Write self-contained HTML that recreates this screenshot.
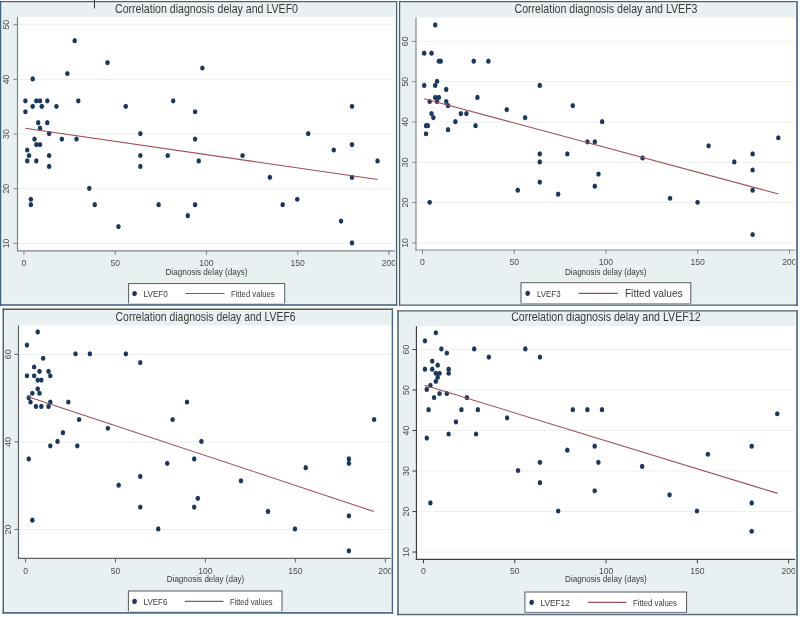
<!DOCTYPE html><html><head><meta charset="utf-8"><title>Correlation diagnosis delay and LVEF</title><style>html,body{margin:0;padding:0;background:#fdfefe;}svg{display:block;filter:blur(0.35px);}text{font-family:"Liberation Sans", sans-serif;}</style></head><body>
<svg width="800" height="617" viewBox="0 0 800 617">
<rect x="0" y="0" width="800" height="617" fill="#fcfefe"/>
<g id="p1">
<rect x="0.6" y="1.6" width="396" height="303.4" fill="#e9f0f1"/>
<rect x="17.5" y="16.8" width="377.3" height="234" fill="#ffffff"/>
<line x1="18.5" y1="243.4" x2="394.8" y2="243.4" stroke="#eeefef" stroke-width="1"/>
<line x1="18.5" y1="188.72" x2="394.8" y2="188.72" stroke="#eeefef" stroke-width="1"/>
<line x1="18.5" y1="134.05" x2="394.8" y2="134.05" stroke="#eeefef" stroke-width="1"/>
<line x1="18.5" y1="79.38" x2="394.8" y2="79.38" stroke="#eeefef" stroke-width="1"/>
<line x1="18.5" y1="24.7" x2="394.8" y2="24.7" stroke="#eeefef" stroke-width="1"/>
<line x1="17.5" y1="16.8" x2="17.5" y2="251.4" stroke="#7e8388" stroke-width="1.2"/>
<line x1="16.9" y1="250.8" x2="394.8" y2="250.8" stroke="#7e8388" stroke-width="1.2"/>
<line x1="13.5" y1="243.4" x2="17.5" y2="243.4" stroke="#7e8388" stroke-width="1"/>
<text x="0" y="0" transform="translate(9.2,243.4) rotate(-90)" text-anchor="middle" font-size="8.8" fill="#4d4d4d">10</text>
<line x1="13.5" y1="188.72" x2="17.5" y2="188.72" stroke="#7e8388" stroke-width="1"/>
<text x="0" y="0" transform="translate(9.2,188.72) rotate(-90)" text-anchor="middle" font-size="8.8" fill="#4d4d4d">20</text>
<line x1="13.5" y1="134.05" x2="17.5" y2="134.05" stroke="#7e8388" stroke-width="1"/>
<text x="0" y="0" transform="translate(9.2,134.05) rotate(-90)" text-anchor="middle" font-size="8.8" fill="#4d4d4d">30</text>
<line x1="13.5" y1="79.38" x2="17.5" y2="79.38" stroke="#7e8388" stroke-width="1"/>
<text x="0" y="0" transform="translate(9.2,79.38) rotate(-90)" text-anchor="middle" font-size="8.8" fill="#4d4d4d">40</text>
<line x1="13.5" y1="24.7" x2="17.5" y2="24.7" stroke="#7e8388" stroke-width="1"/>
<text x="0" y="0" transform="translate(9.2,24.7) rotate(-90)" text-anchor="middle" font-size="8.8" fill="#4d4d4d">50</text>
<line x1="24" y1="250.8" x2="24" y2="254.8" stroke="#7e8388" stroke-width="1"/>
<text x="24" y="265.9" text-anchor="middle" font-size="8.6" fill="#4d4d4d">0</text>
<line x1="115.22" y1="250.8" x2="115.22" y2="254.8" stroke="#7e8388" stroke-width="1"/>
<text x="115.22" y="265.9" text-anchor="middle" font-size="8.6" fill="#4d4d4d">50</text>
<line x1="206.45" y1="250.8" x2="206.45" y2="254.8" stroke="#7e8388" stroke-width="1"/>
<text x="206.45" y="265.9" text-anchor="middle" font-size="8.6" fill="#4d4d4d">100</text>
<line x1="297.68" y1="250.8" x2="297.68" y2="254.8" stroke="#7e8388" stroke-width="1"/>
<text x="297.68" y="265.9" text-anchor="middle" font-size="8.6" fill="#4d4d4d">150</text>
<line x1="388.9" y1="250.8" x2="388.9" y2="254.8" stroke="#7e8388" stroke-width="1"/>
<text x="388.9" y="265.9" text-anchor="middle" font-size="8.6" fill="#4d4d4d">200</text>
<ellipse cx="74.66" cy="40.67" rx="2.25" ry="2.6" fill="#1b385c"/>
<ellipse cx="107.5" cy="62.54" rx="2.25" ry="2.6" fill="#1b385c"/>
<ellipse cx="202.37" cy="68.01" rx="2.25" ry="2.6" fill="#1b385c"/>
<ellipse cx="67.36" cy="73.48" rx="2.25" ry="2.6" fill="#1b385c"/>
<ellipse cx="32.7" cy="78.94" rx="2.25" ry="2.6" fill="#1b385c"/>
<ellipse cx="25.4" cy="100.81" rx="2.25" ry="2.6" fill="#1b385c"/>
<ellipse cx="36.34" cy="100.81" rx="2.25" ry="2.6" fill="#1b385c"/>
<ellipse cx="39.99" cy="100.81" rx="2.25" ry="2.6" fill="#1b385c"/>
<ellipse cx="47.29" cy="100.81" rx="2.25" ry="2.6" fill="#1b385c"/>
<ellipse cx="78.31" cy="100.81" rx="2.25" ry="2.6" fill="#1b385c"/>
<ellipse cx="173.18" cy="100.81" rx="2.25" ry="2.6" fill="#1b385c"/>
<ellipse cx="32.7" cy="106.28" rx="2.25" ry="2.6" fill="#1b385c"/>
<ellipse cx="41.82" cy="106.28" rx="2.25" ry="2.6" fill="#1b385c"/>
<ellipse cx="56.41" cy="106.28" rx="2.25" ry="2.6" fill="#1b385c"/>
<ellipse cx="125.75" cy="106.28" rx="2.25" ry="2.6" fill="#1b385c"/>
<ellipse cx="351.98" cy="106.28" rx="2.25" ry="2.6" fill="#1b385c"/>
<ellipse cx="25.4" cy="111.75" rx="2.25" ry="2.6" fill="#1b385c"/>
<ellipse cx="195.08" cy="111.75" rx="2.25" ry="2.6" fill="#1b385c"/>
<ellipse cx="38.17" cy="122.68" rx="2.25" ry="2.6" fill="#1b385c"/>
<ellipse cx="47.29" cy="122.68" rx="2.25" ry="2.6" fill="#1b385c"/>
<ellipse cx="39.99" cy="128.15" rx="2.25" ry="2.6" fill="#1b385c"/>
<ellipse cx="49.12" cy="133.62" rx="2.25" ry="2.6" fill="#1b385c"/>
<ellipse cx="140.34" cy="133.62" rx="2.25" ry="2.6" fill="#1b385c"/>
<ellipse cx="308.2" cy="133.62" rx="2.25" ry="2.6" fill="#1b385c"/>
<ellipse cx="34.52" cy="139.09" rx="2.25" ry="2.6" fill="#1b385c"/>
<ellipse cx="61.89" cy="139.09" rx="2.25" ry="2.6" fill="#1b385c"/>
<ellipse cx="76.48" cy="139.09" rx="2.25" ry="2.6" fill="#1b385c"/>
<ellipse cx="195.08" cy="139.09" rx="2.25" ry="2.6" fill="#1b385c"/>
<ellipse cx="36.34" cy="144.55" rx="2.25" ry="2.6" fill="#1b385c"/>
<ellipse cx="39.99" cy="144.55" rx="2.25" ry="2.6" fill="#1b385c"/>
<ellipse cx="351.98" cy="144.55" rx="2.25" ry="2.6" fill="#1b385c"/>
<ellipse cx="27.22" cy="150.02" rx="2.25" ry="2.6" fill="#1b385c"/>
<ellipse cx="333.74" cy="150.02" rx="2.25" ry="2.6" fill="#1b385c"/>
<ellipse cx="29.05" cy="155.49" rx="2.25" ry="2.6" fill="#1b385c"/>
<ellipse cx="49.12" cy="155.49" rx="2.25" ry="2.6" fill="#1b385c"/>
<ellipse cx="140.34" cy="155.49" rx="2.25" ry="2.6" fill="#1b385c"/>
<ellipse cx="167.71" cy="155.49" rx="2.25" ry="2.6" fill="#1b385c"/>
<ellipse cx="242.51" cy="155.49" rx="2.25" ry="2.6" fill="#1b385c"/>
<ellipse cx="27.22" cy="160.96" rx="2.25" ry="2.6" fill="#1b385c"/>
<ellipse cx="36.34" cy="160.96" rx="2.25" ry="2.6" fill="#1b385c"/>
<ellipse cx="198.73" cy="160.96" rx="2.25" ry="2.6" fill="#1b385c"/>
<ellipse cx="377.53" cy="160.96" rx="2.25" ry="2.6" fill="#1b385c"/>
<ellipse cx="49.12" cy="166.42" rx="2.25" ry="2.6" fill="#1b385c"/>
<ellipse cx="140.34" cy="166.42" rx="2.25" ry="2.6" fill="#1b385c"/>
<ellipse cx="269.88" cy="177.36" rx="2.25" ry="2.6" fill="#1b385c"/>
<ellipse cx="351.98" cy="177.36" rx="2.25" ry="2.6" fill="#1b385c"/>
<ellipse cx="89.26" cy="188.29" rx="2.25" ry="2.6" fill="#1b385c"/>
<ellipse cx="297.25" cy="199.23" rx="2.25" ry="2.6" fill="#1b385c"/>
<ellipse cx="30.87" cy="199.23" rx="2.25" ry="2.6" fill="#1b385c"/>
<ellipse cx="30.87" cy="204.7" rx="2.25" ry="2.6" fill="#1b385c"/>
<ellipse cx="94.73" cy="204.7" rx="2.25" ry="2.6" fill="#1b385c"/>
<ellipse cx="158.59" cy="204.7" rx="2.25" ry="2.6" fill="#1b385c"/>
<ellipse cx="195.08" cy="204.7" rx="2.25" ry="2.6" fill="#1b385c"/>
<ellipse cx="282.65" cy="204.7" rx="2.25" ry="2.6" fill="#1b385c"/>
<ellipse cx="187.78" cy="215.63" rx="2.25" ry="2.6" fill="#1b385c"/>
<ellipse cx="341.04" cy="221.1" rx="2.25" ry="2.6" fill="#1b385c"/>
<ellipse cx="118.45" cy="226.57" rx="2.25" ry="2.6" fill="#1b385c"/>
<ellipse cx="351.98" cy="242.97" rx="2.25" ry="2.6" fill="#1b385c"/>
<line x1="25.2" y1="128.25" x2="377.6" y2="179.5" stroke="#a04c57" stroke-width="1.1"/>
<text x="206.5" y="12.5" text-anchor="middle" font-size="12.1" fill="#3a3a3a" textLength="183" lengthAdjust="spacingAndGlyphs">Correlation diagnosis delay and LVEF0</text>
<text x="206.5" y="274.6" text-anchor="middle" font-size="8.6" fill="#3a3a3a" textLength="82" lengthAdjust="spacingAndGlyphs">Diagnosis delay (days)</text>
<rect x="128.6" y="283.6" width="156.1" height="20.4" fill="#ffffff" stroke="#555a5f" stroke-width="1"/>
<ellipse cx="134.6" cy="293.5" rx="2.3" ry="2.6" fill="#1b385c"/>
<line x1="185.4" y1="293.5" x2="224.5" y2="293.5" stroke="#a04c57" stroke-width="1.2"/>
<text x="143.6" y="296.8" font-size="8.8" fill="#3a3a3a" textLength="24.2" lengthAdjust="spacingAndGlyphs">LVEF0</text>
<text x="230.9" y="296.8" font-size="8.3" fill="#3a3a3a" textLength="43.8" lengthAdjust="spacingAndGlyphs">Fitted values</text>
<rect x="1.75" y="2.7" width="393.7" height="301.1" fill="none" stroke="#f3fafc" stroke-width="1" stroke-opacity="0.8"/>
<line x1="0.6" y1="1" x2="0.6" y2="305.7" stroke="#3d6485" stroke-width="1.3"/>
<line x1="-0.05" y1="1.6" x2="397.25" y2="1.6" stroke="#4a5e6c" stroke-width="1.2"/>
<line x1="396.6" y1="1" x2="396.6" y2="305.7" stroke="#4a6474" stroke-width="1.3"/>
<line x1="-0.05" y1="305" x2="397.25" y2="305" stroke="#3d5c80" stroke-width="1.4"/>
</g>
<g id="p2">
<rect x="399.6" y="1.6" width="397.4" height="303.5" fill="#e9f0f1"/>
<rect x="416" y="17.4" width="380" height="232.6" fill="#ffffff"/>
<line x1="417" y1="242.9" x2="796" y2="242.9" stroke="#eeefef" stroke-width="1"/>
<line x1="417" y1="202.59" x2="796" y2="202.59" stroke="#eeefef" stroke-width="1"/>
<line x1="417" y1="162.29" x2="796" y2="162.29" stroke="#eeefef" stroke-width="1"/>
<line x1="417" y1="121.98" x2="796" y2="121.98" stroke="#eeefef" stroke-width="1"/>
<line x1="417" y1="81.68" x2="796" y2="81.68" stroke="#eeefef" stroke-width="1"/>
<line x1="417" y1="41.37" x2="796" y2="41.37" stroke="#eeefef" stroke-width="1"/>
<line x1="416" y1="17.4" x2="416" y2="250.6" stroke="#84888c" stroke-width="1.2"/>
<line x1="415.4" y1="250" x2="796" y2="250" stroke="#84888c" stroke-width="1.2"/>
<line x1="412" y1="242.9" x2="416" y2="242.9" stroke="#84888c" stroke-width="1"/>
<text x="0" y="0" transform="translate(408.3,242.9) rotate(-90)" text-anchor="middle" font-size="8.8" fill="#4d4d4d">10</text>
<line x1="412" y1="202.59" x2="416" y2="202.59" stroke="#84888c" stroke-width="1"/>
<text x="0" y="0" transform="translate(408.3,202.59) rotate(-90)" text-anchor="middle" font-size="8.8" fill="#4d4d4d">20</text>
<line x1="412" y1="162.29" x2="416" y2="162.29" stroke="#84888c" stroke-width="1"/>
<text x="0" y="0" transform="translate(408.3,162.29) rotate(-90)" text-anchor="middle" font-size="8.8" fill="#4d4d4d">30</text>
<line x1="412" y1="121.98" x2="416" y2="121.98" stroke="#84888c" stroke-width="1"/>
<text x="0" y="0" transform="translate(408.3,121.98) rotate(-90)" text-anchor="middle" font-size="8.8" fill="#4d4d4d">40</text>
<line x1="412" y1="81.68" x2="416" y2="81.68" stroke="#84888c" stroke-width="1"/>
<text x="0" y="0" transform="translate(408.3,81.68) rotate(-90)" text-anchor="middle" font-size="8.8" fill="#4d4d4d">50</text>
<line x1="412" y1="41.37" x2="416" y2="41.37" stroke="#84888c" stroke-width="1"/>
<text x="0" y="0" transform="translate(408.3,41.37) rotate(-90)" text-anchor="middle" font-size="8.8" fill="#4d4d4d">60</text>
<line x1="422.5" y1="250" x2="422.5" y2="254" stroke="#84888c" stroke-width="1"/>
<text x="422.5" y="265.4" text-anchor="middle" font-size="8.6" fill="#4d4d4d">0</text>
<line x1="514.24" y1="250" x2="514.24" y2="254" stroke="#84888c" stroke-width="1"/>
<text x="514.24" y="265.4" text-anchor="middle" font-size="8.6" fill="#4d4d4d">50</text>
<line x1="605.98" y1="250" x2="605.98" y2="254" stroke="#84888c" stroke-width="1"/>
<text x="605.98" y="265.4" text-anchor="middle" font-size="8.6" fill="#4d4d4d">100</text>
<line x1="697.72" y1="250" x2="697.72" y2="254" stroke="#84888c" stroke-width="1"/>
<text x="697.72" y="265.4" text-anchor="middle" font-size="8.6" fill="#4d4d4d">150</text>
<line x1="789.46" y1="250" x2="789.46" y2="254" stroke="#84888c" stroke-width="1"/>
<text x="789.46" y="265.4" text-anchor="middle" font-size="8.6" fill="#4d4d4d">200</text>
<ellipse cx="435.19" cy="24.92" rx="2.25" ry="2.6" fill="#1b385c"/>
<ellipse cx="424.19" cy="53.13" rx="2.25" ry="2.6" fill="#1b385c"/>
<ellipse cx="431.53" cy="53.13" rx="2.25" ry="2.6" fill="#1b385c"/>
<ellipse cx="438.86" cy="61.19" rx="2.25" ry="2.6" fill="#1b385c"/>
<ellipse cx="440.7" cy="61.19" rx="2.25" ry="2.6" fill="#1b385c"/>
<ellipse cx="473.73" cy="61.19" rx="2.25" ry="2.6" fill="#1b385c"/>
<ellipse cx="488.4" cy="61.19" rx="2.25" ry="2.6" fill="#1b385c"/>
<ellipse cx="437.03" cy="81.35" rx="2.25" ry="2.6" fill="#1b385c"/>
<ellipse cx="539.78" cy="85.38" rx="2.25" ry="2.6" fill="#1b385c"/>
<ellipse cx="424.19" cy="85.38" rx="2.25" ry="2.6" fill="#1b385c"/>
<ellipse cx="435.19" cy="85.38" rx="2.25" ry="2.6" fill="#1b385c"/>
<ellipse cx="446.2" cy="89.41" rx="2.25" ry="2.6" fill="#1b385c"/>
<ellipse cx="435.19" cy="97.47" rx="2.25" ry="2.6" fill="#1b385c"/>
<ellipse cx="438.86" cy="97.47" rx="2.25" ry="2.6" fill="#1b385c"/>
<ellipse cx="477.4" cy="97.47" rx="2.25" ry="2.6" fill="#1b385c"/>
<ellipse cx="429.69" cy="101.5" rx="2.25" ry="2.6" fill="#1b385c"/>
<ellipse cx="437.03" cy="101.5" rx="2.25" ry="2.6" fill="#1b385c"/>
<ellipse cx="446.2" cy="101.5" rx="2.25" ry="2.6" fill="#1b385c"/>
<ellipse cx="448.04" cy="105.53" rx="2.25" ry="2.6" fill="#1b385c"/>
<ellipse cx="572.8" cy="105.53" rx="2.25" ry="2.6" fill="#1b385c"/>
<ellipse cx="506.75" cy="109.56" rx="2.25" ry="2.6" fill="#1b385c"/>
<ellipse cx="431.53" cy="113.59" rx="2.25" ry="2.6" fill="#1b385c"/>
<ellipse cx="460.88" cy="113.59" rx="2.25" ry="2.6" fill="#1b385c"/>
<ellipse cx="466.39" cy="113.59" rx="2.25" ry="2.6" fill="#1b385c"/>
<ellipse cx="433.36" cy="117.62" rx="2.25" ry="2.6" fill="#1b385c"/>
<ellipse cx="525.1" cy="117.62" rx="2.25" ry="2.6" fill="#1b385c"/>
<ellipse cx="455.38" cy="121.65" rx="2.25" ry="2.6" fill="#1b385c"/>
<ellipse cx="602.16" cy="121.65" rx="2.25" ry="2.6" fill="#1b385c"/>
<ellipse cx="426.02" cy="125.68" rx="2.25" ry="2.6" fill="#1b385c"/>
<ellipse cx="427.86" cy="125.68" rx="2.25" ry="2.6" fill="#1b385c"/>
<ellipse cx="475.56" cy="125.68" rx="2.25" ry="2.6" fill="#1b385c"/>
<ellipse cx="448.04" cy="129.71" rx="2.25" ry="2.6" fill="#1b385c"/>
<ellipse cx="426.02" cy="133.74" rx="2.25" ry="2.6" fill="#1b385c"/>
<ellipse cx="778.3" cy="137.77" rx="2.25" ry="2.6" fill="#1b385c"/>
<ellipse cx="587.48" cy="141.8" rx="2.25" ry="2.6" fill="#1b385c"/>
<ellipse cx="594.82" cy="141.8" rx="2.25" ry="2.6" fill="#1b385c"/>
<ellipse cx="708.58" cy="145.84" rx="2.25" ry="2.6" fill="#1b385c"/>
<ellipse cx="539.78" cy="153.9" rx="2.25" ry="2.6" fill="#1b385c"/>
<ellipse cx="567.3" cy="153.9" rx="2.25" ry="2.6" fill="#1b385c"/>
<ellipse cx="752.62" cy="153.9" rx="2.25" ry="2.6" fill="#1b385c"/>
<ellipse cx="642.53" cy="157.93" rx="2.25" ry="2.6" fill="#1b385c"/>
<ellipse cx="539.78" cy="161.96" rx="2.25" ry="2.6" fill="#1b385c"/>
<ellipse cx="734.27" cy="161.96" rx="2.25" ry="2.6" fill="#1b385c"/>
<ellipse cx="752.62" cy="170.02" rx="2.25" ry="2.6" fill="#1b385c"/>
<ellipse cx="598.49" cy="174.05" rx="2.25" ry="2.6" fill="#1b385c"/>
<ellipse cx="539.78" cy="182.11" rx="2.25" ry="2.6" fill="#1b385c"/>
<ellipse cx="594.82" cy="186.14" rx="2.25" ry="2.6" fill="#1b385c"/>
<ellipse cx="517.76" cy="190.17" rx="2.25" ry="2.6" fill="#1b385c"/>
<ellipse cx="752.62" cy="190.17" rx="2.25" ry="2.6" fill="#1b385c"/>
<ellipse cx="558.13" cy="194.2" rx="2.25" ry="2.6" fill="#1b385c"/>
<ellipse cx="670.05" cy="198.23" rx="2.25" ry="2.6" fill="#1b385c"/>
<ellipse cx="429.69" cy="202.26" rx="2.25" ry="2.6" fill="#1b385c"/>
<ellipse cx="697.57" cy="202.26" rx="2.25" ry="2.6" fill="#1b385c"/>
<ellipse cx="752.62" cy="234.51" rx="2.25" ry="2.6" fill="#1b385c"/>
<line x1="424.2" y1="98.7" x2="778.4" y2="194" stroke="#a04c57" stroke-width="1.1"/>
<text x="606" y="12.8" text-anchor="middle" font-size="12.1" fill="#3a3a3a" textLength="183" lengthAdjust="spacingAndGlyphs">Correlation diagnosis delay and LVEF3</text>
<text x="605.8" y="274.6" text-anchor="middle" font-size="8.6" fill="#3a3a3a" textLength="81.5" lengthAdjust="spacingAndGlyphs">Diagnosis delay (days)</text>
<rect x="521" y="282.7" width="169.8" height="20.9" fill="#ffffff" stroke="#555a5f" stroke-width="1"/>
<ellipse cx="527.7" cy="293.3" rx="2.3" ry="2.6" fill="#1b385c"/>
<line x1="578.6" y1="293.3" x2="617.9" y2="293.3" stroke="#a04c57" stroke-width="1.2"/>
<text x="537" y="296.5" font-size="8.8" fill="#3a3a3a" textLength="23.6" lengthAdjust="spacingAndGlyphs">LVEF3</text>
<text x="624.9" y="297.4" font-size="11" fill="#3a3a3a" textLength="57.8" lengthAdjust="spacingAndGlyphs">Fitted values</text>
<rect x="400.75" y="2.7" width="394.8" height="301.25" fill="none" stroke="#f3fafc" stroke-width="1" stroke-opacity="0.8"/>
<line x1="399.6" y1="1" x2="399.6" y2="305.75" stroke="#4a6070" stroke-width="1.3"/>
<line x1="398.95" y1="1.6" x2="797.95" y2="1.6" stroke="#4a5e6c" stroke-width="1.2"/>
<line x1="797" y1="1" x2="797" y2="305.75" stroke="#5f7a98" stroke-width="1.9"/>
<line x1="398.95" y1="305.1" x2="797.95" y2="305.1" stroke="#445d75" stroke-width="1.3"/>
</g>
<g id="p3">
<rect x="3.3" y="309.3" width="389.1" height="303.6" fill="#e9f0f1"/>
<rect x="18.5" y="325.4" width="372.5" height="232.9" fill="#ffffff"/>
<line x1="19.5" y1="529.45" x2="391" y2="529.45" stroke="#eeefef" stroke-width="1"/>
<line x1="19.5" y1="441.9" x2="391" y2="441.9" stroke="#eeefef" stroke-width="1"/>
<line x1="19.5" y1="354.35" x2="391" y2="354.35" stroke="#eeefef" stroke-width="1"/>
<line x1="18.5" y1="325.4" x2="18.5" y2="558.9" stroke="#5e6266" stroke-width="1.2"/>
<line x1="17.9" y1="558.3" x2="391" y2="558.3" stroke="#5e6266" stroke-width="1.2"/>
<line x1="14.5" y1="529.45" x2="18.5" y2="529.45" stroke="#5e6266" stroke-width="1"/>
<text x="0" y="0" transform="translate(10.6,529.45) rotate(-90)" text-anchor="middle" font-size="9.0" fill="#4d4d4d">20</text>
<line x1="14.5" y1="441.9" x2="18.5" y2="441.9" stroke="#5e6266" stroke-width="1"/>
<text x="0" y="0" transform="translate(10.6,441.9) rotate(-90)" text-anchor="middle" font-size="9.0" fill="#4d4d4d">40</text>
<line x1="14.5" y1="354.35" x2="18.5" y2="354.35" stroke="#5e6266" stroke-width="1"/>
<text x="0" y="0" transform="translate(10.6,354.35) rotate(-90)" text-anchor="middle" font-size="9.0" fill="#4d4d4d">60</text>
<line x1="25.56" y1="558.3" x2="25.56" y2="562.3" stroke="#5e6266" stroke-width="1"/>
<text x="25.56" y="573.6" text-anchor="middle" font-size="8.6" fill="#4d4d4d">0</text>
<line x1="115.5" y1="558.3" x2="115.5" y2="562.3" stroke="#5e6266" stroke-width="1"/>
<text x="115.5" y="573.6" text-anchor="middle" font-size="8.6" fill="#4d4d4d">50</text>
<line x1="205.43" y1="558.3" x2="205.43" y2="562.3" stroke="#5e6266" stroke-width="1"/>
<text x="205.43" y="573.6" text-anchor="middle" font-size="8.6" fill="#4d4d4d">100</text>
<line x1="295.37" y1="558.3" x2="295.37" y2="562.3" stroke="#5e6266" stroke-width="1"/>
<text x="295.37" y="573.6" text-anchor="middle" font-size="8.6" fill="#4d4d4d">150</text>
<line x1="385.3" y1="558.3" x2="385.3" y2="562.3" stroke="#5e6266" stroke-width="1"/>
<text x="385.3" y="573.6" text-anchor="middle" font-size="8.6" fill="#4d4d4d">200</text>
<ellipse cx="37.72" cy="331.96" rx="2.25" ry="2.6" fill="#1b385c"/>
<ellipse cx="26.93" cy="345.1" rx="2.25" ry="2.6" fill="#1b385c"/>
<ellipse cx="75.5" cy="353.85" rx="2.25" ry="2.6" fill="#1b385c"/>
<ellipse cx="89.89" cy="353.85" rx="2.25" ry="2.6" fill="#1b385c"/>
<ellipse cx="125.86" cy="353.85" rx="2.25" ry="2.6" fill="#1b385c"/>
<ellipse cx="43.12" cy="358.23" rx="2.25" ry="2.6" fill="#1b385c"/>
<ellipse cx="140.25" cy="362.61" rx="2.25" ry="2.6" fill="#1b385c"/>
<ellipse cx="34.13" cy="366.98" rx="2.25" ry="2.6" fill="#1b385c"/>
<ellipse cx="39.52" cy="371.36" rx="2.25" ry="2.6" fill="#1b385c"/>
<ellipse cx="48.52" cy="371.36" rx="2.25" ry="2.6" fill="#1b385c"/>
<ellipse cx="26.93" cy="375.74" rx="2.25" ry="2.6" fill="#1b385c"/>
<ellipse cx="34.13" cy="375.74" rx="2.25" ry="2.6" fill="#1b385c"/>
<ellipse cx="50.31" cy="375.74" rx="2.25" ry="2.6" fill="#1b385c"/>
<ellipse cx="37.72" cy="380.12" rx="2.25" ry="2.6" fill="#1b385c"/>
<ellipse cx="41.32" cy="380.12" rx="2.25" ry="2.6" fill="#1b385c"/>
<ellipse cx="37.72" cy="388.87" rx="2.25" ry="2.6" fill="#1b385c"/>
<ellipse cx="32.33" cy="393.25" rx="2.25" ry="2.6" fill="#1b385c"/>
<ellipse cx="39.52" cy="393.25" rx="2.25" ry="2.6" fill="#1b385c"/>
<ellipse cx="28.73" cy="397.63" rx="2.25" ry="2.6" fill="#1b385c"/>
<ellipse cx="30.53" cy="402" rx="2.25" ry="2.6" fill="#1b385c"/>
<ellipse cx="50.31" cy="402" rx="2.25" ry="2.6" fill="#1b385c"/>
<ellipse cx="68.3" cy="402" rx="2.25" ry="2.6" fill="#1b385c"/>
<ellipse cx="187.02" cy="402" rx="2.25" ry="2.6" fill="#1b385c"/>
<ellipse cx="35.93" cy="406.38" rx="2.25" ry="2.6" fill="#1b385c"/>
<ellipse cx="41.32" cy="406.38" rx="2.25" ry="2.6" fill="#1b385c"/>
<ellipse cx="48.52" cy="406.38" rx="2.25" ry="2.6" fill="#1b385c"/>
<ellipse cx="79.09" cy="419.51" rx="2.25" ry="2.6" fill="#1b385c"/>
<ellipse cx="172.63" cy="419.51" rx="2.25" ry="2.6" fill="#1b385c"/>
<ellipse cx="374.08" cy="419.51" rx="2.25" ry="2.6" fill="#1b385c"/>
<ellipse cx="107.87" cy="428.27" rx="2.25" ry="2.6" fill="#1b385c"/>
<ellipse cx="62.91" cy="432.65" rx="2.25" ry="2.6" fill="#1b385c"/>
<ellipse cx="57.51" cy="441.4" rx="2.25" ry="2.6" fill="#1b385c"/>
<ellipse cx="201.41" cy="441.4" rx="2.25" ry="2.6" fill="#1b385c"/>
<ellipse cx="50.31" cy="445.78" rx="2.25" ry="2.6" fill="#1b385c"/>
<ellipse cx="77.3" cy="445.78" rx="2.25" ry="2.6" fill="#1b385c"/>
<ellipse cx="28.73" cy="458.91" rx="2.25" ry="2.6" fill="#1b385c"/>
<ellipse cx="194.21" cy="458.91" rx="2.25" ry="2.6" fill="#1b385c"/>
<ellipse cx="348.9" cy="458.91" rx="2.25" ry="2.6" fill="#1b385c"/>
<ellipse cx="348.9" cy="463.29" rx="2.25" ry="2.6" fill="#1b385c"/>
<ellipse cx="167.23" cy="463.29" rx="2.25" ry="2.6" fill="#1b385c"/>
<ellipse cx="305.73" cy="467.67" rx="2.25" ry="2.6" fill="#1b385c"/>
<ellipse cx="140.25" cy="476.42" rx="2.25" ry="2.6" fill="#1b385c"/>
<ellipse cx="240.98" cy="480.8" rx="2.25" ry="2.6" fill="#1b385c"/>
<ellipse cx="118.67" cy="485.18" rx="2.25" ry="2.6" fill="#1b385c"/>
<ellipse cx="197.81" cy="498.31" rx="2.25" ry="2.6" fill="#1b385c"/>
<ellipse cx="140.25" cy="507.06" rx="2.25" ry="2.6" fill="#1b385c"/>
<ellipse cx="194.21" cy="507.06" rx="2.25" ry="2.6" fill="#1b385c"/>
<ellipse cx="267.96" cy="511.44" rx="2.25" ry="2.6" fill="#1b385c"/>
<ellipse cx="348.9" cy="515.82" rx="2.25" ry="2.6" fill="#1b385c"/>
<ellipse cx="32.33" cy="520.2" rx="2.25" ry="2.6" fill="#1b385c"/>
<ellipse cx="158.24" cy="528.95" rx="2.25" ry="2.6" fill="#1b385c"/>
<ellipse cx="294.94" cy="528.95" rx="2.25" ry="2.6" fill="#1b385c"/>
<ellipse cx="348.9" cy="550.84" rx="2.25" ry="2.6" fill="#1b385c"/>
<line x1="27.3" y1="396.5" x2="373.8" y2="511.4" stroke="#a04c57" stroke-width="1.1"/>
<text x="205.6" y="320.5" text-anchor="middle" font-size="12.1" fill="#3a3a3a" textLength="180" lengthAdjust="spacingAndGlyphs">Correlation diagnosis delay and LVEF6</text>
<text x="205.5" y="582" text-anchor="middle" font-size="8.6" fill="#3a3a3a" textLength="77.4" lengthAdjust="spacingAndGlyphs">Diagnosis delay (day)</text>
<rect x="128.4" y="591" width="153.6" height="20.8" fill="#ffffff" stroke="#555a5f" stroke-width="1"/>
<ellipse cx="134.6" cy="601.4" rx="2.3" ry="2.6" fill="#1b385c"/>
<line x1="184.8" y1="601.4" x2="223.5" y2="601.4" stroke="#a04c57" stroke-width="1.2"/>
<text x="143.6" y="604.8" font-size="8.8" fill="#3a3a3a" textLength="23.8" lengthAdjust="spacingAndGlyphs">LVEF6</text>
<text x="229.9" y="604.7" font-size="8.2" fill="#3a3a3a" textLength="42.7" lengthAdjust="spacingAndGlyphs">Fitted values</text>
<rect x="4.55" y="310.5" width="386.65" height="301.1" fill="none" stroke="#f3fafc" stroke-width="1" stroke-opacity="0.8"/>
<line x1="3.3" y1="308.6" x2="3.3" y2="613.7" stroke="#4d6274" stroke-width="1.5"/>
<line x1="2.55" y1="309.3" x2="393.1" y2="309.3" stroke="#4a5560" stroke-width="1.4"/>
<line x1="392.4" y1="308.6" x2="392.4" y2="613.7" stroke="#4e6880" stroke-width="1.4"/>
<line x1="2.55" y1="612.9" x2="393.1" y2="612.9" stroke="#4e6c85" stroke-width="1.6"/>
</g>
<g id="p4">
<rect x="398.05" y="310.8" width="398.95" height="303.8" fill="#e9f0f1"/>
<rect x="416.45" y="326.2" width="379.15" height="233.15" fill="#ffffff"/>
<line x1="417.45" y1="552.04" x2="795.6" y2="552.04" stroke="#eeefef" stroke-width="1"/>
<line x1="417.45" y1="511.54" x2="795.6" y2="511.54" stroke="#eeefef" stroke-width="1"/>
<line x1="417.45" y1="471.03" x2="795.6" y2="471.03" stroke="#eeefef" stroke-width="1"/>
<line x1="417.45" y1="430.53" x2="795.6" y2="430.53" stroke="#eeefef" stroke-width="1"/>
<line x1="417.45" y1="390.02" x2="795.6" y2="390.02" stroke="#eeefef" stroke-width="1"/>
<line x1="417.45" y1="349.52" x2="795.6" y2="349.52" stroke="#eeefef" stroke-width="1"/>
<line x1="416.45" y1="326.2" x2="416.45" y2="559.95" stroke="#3e4144" stroke-width="1.2"/>
<line x1="415.85" y1="559.35" x2="795.6" y2="559.35" stroke="#3e4144" stroke-width="1.2"/>
<line x1="412.45" y1="552.04" x2="416.45" y2="552.04" stroke="#3e4144" stroke-width="1"/>
<text x="0" y="0" transform="translate(408.5,552.04) rotate(-90)" text-anchor="middle" font-size="8.8" fill="#4d4d4d">10</text>
<line x1="412.45" y1="511.54" x2="416.45" y2="511.54" stroke="#3e4144" stroke-width="1"/>
<text x="0" y="0" transform="translate(408.5,511.54) rotate(-90)" text-anchor="middle" font-size="8.8" fill="#4d4d4d">20</text>
<line x1="412.45" y1="471.03" x2="416.45" y2="471.03" stroke="#3e4144" stroke-width="1"/>
<text x="0" y="0" transform="translate(408.5,471.03) rotate(-90)" text-anchor="middle" font-size="8.8" fill="#4d4d4d">30</text>
<line x1="412.45" y1="430.53" x2="416.45" y2="430.53" stroke="#3e4144" stroke-width="1"/>
<text x="0" y="0" transform="translate(408.5,430.53) rotate(-90)" text-anchor="middle" font-size="8.8" fill="#4d4d4d">40</text>
<line x1="412.45" y1="390.02" x2="416.45" y2="390.02" stroke="#3e4144" stroke-width="1"/>
<text x="0" y="0" transform="translate(408.5,390.02) rotate(-90)" text-anchor="middle" font-size="8.8" fill="#4d4d4d">50</text>
<line x1="412.45" y1="349.52" x2="416.45" y2="349.52" stroke="#3e4144" stroke-width="1"/>
<text x="0" y="0" transform="translate(408.5,349.52) rotate(-90)" text-anchor="middle" font-size="8.8" fill="#4d4d4d">60</text>
<line x1="423.5" y1="559.35" x2="423.5" y2="563.35" stroke="#3e4144" stroke-width="1"/>
<text x="423.5" y="574" text-anchor="middle" font-size="8.6" fill="#4d4d4d">0</text>
<line x1="514.77" y1="559.35" x2="514.77" y2="563.35" stroke="#3e4144" stroke-width="1"/>
<text x="514.77" y="574" text-anchor="middle" font-size="8.6" fill="#4d4d4d">50</text>
<line x1="606.05" y1="559.35" x2="606.05" y2="563.35" stroke="#3e4144" stroke-width="1"/>
<text x="606.05" y="574" text-anchor="middle" font-size="8.6" fill="#4d4d4d">100</text>
<line x1="697.33" y1="559.35" x2="697.33" y2="563.35" stroke="#3e4144" stroke-width="1"/>
<text x="697.33" y="574" text-anchor="middle" font-size="8.6" fill="#4d4d4d">150</text>
<line x1="788.6" y1="559.35" x2="788.6" y2="563.35" stroke="#3e4144" stroke-width="1"/>
<text x="788.6" y="574" text-anchor="middle" font-size="8.6" fill="#4d4d4d">200</text>
<ellipse cx="435.87" cy="332.76" rx="2.25" ry="2.6" fill="#1b385c"/>
<ellipse cx="424.92" cy="340.86" rx="2.25" ry="2.6" fill="#1b385c"/>
<ellipse cx="441.35" cy="348.96" rx="2.25" ry="2.6" fill="#1b385c"/>
<ellipse cx="474.21" cy="348.96" rx="2.25" ry="2.6" fill="#1b385c"/>
<ellipse cx="525.32" cy="348.96" rx="2.25" ry="2.6" fill="#1b385c"/>
<ellipse cx="446.83" cy="353.01" rx="2.25" ry="2.6" fill="#1b385c"/>
<ellipse cx="488.81" cy="357.06" rx="2.25" ry="2.6" fill="#1b385c"/>
<ellipse cx="539.93" cy="357.06" rx="2.25" ry="2.6" fill="#1b385c"/>
<ellipse cx="432.22" cy="361.11" rx="2.25" ry="2.6" fill="#1b385c"/>
<ellipse cx="437.7" cy="365.17" rx="2.25" ry="2.6" fill="#1b385c"/>
<ellipse cx="424.92" cy="369.22" rx="2.25" ry="2.6" fill="#1b385c"/>
<ellipse cx="432.22" cy="369.22" rx="2.25" ry="2.6" fill="#1b385c"/>
<ellipse cx="448.65" cy="369.22" rx="2.25" ry="2.6" fill="#1b385c"/>
<ellipse cx="435.87" cy="373.27" rx="2.25" ry="2.6" fill="#1b385c"/>
<ellipse cx="439.53" cy="373.27" rx="2.25" ry="2.6" fill="#1b385c"/>
<ellipse cx="448.65" cy="373.27" rx="2.25" ry="2.6" fill="#1b385c"/>
<ellipse cx="437.7" cy="377.32" rx="2.25" ry="2.6" fill="#1b385c"/>
<ellipse cx="435.87" cy="381.37" rx="2.25" ry="2.6" fill="#1b385c"/>
<ellipse cx="430.4" cy="385.42" rx="2.25" ry="2.6" fill="#1b385c"/>
<ellipse cx="426.75" cy="389.47" rx="2.25" ry="2.6" fill="#1b385c"/>
<ellipse cx="439.53" cy="393.52" rx="2.25" ry="2.6" fill="#1b385c"/>
<ellipse cx="446.83" cy="393.52" rx="2.25" ry="2.6" fill="#1b385c"/>
<ellipse cx="434.05" cy="397.57" rx="2.25" ry="2.6" fill="#1b385c"/>
<ellipse cx="466.91" cy="397.57" rx="2.25" ry="2.6" fill="#1b385c"/>
<ellipse cx="428.57" cy="409.72" rx="2.25" ry="2.6" fill="#1b385c"/>
<ellipse cx="461.43" cy="409.72" rx="2.25" ry="2.6" fill="#1b385c"/>
<ellipse cx="477.86" cy="409.72" rx="2.25" ry="2.6" fill="#1b385c"/>
<ellipse cx="572.79" cy="409.72" rx="2.25" ry="2.6" fill="#1b385c"/>
<ellipse cx="587.39" cy="409.72" rx="2.25" ry="2.6" fill="#1b385c"/>
<ellipse cx="602" cy="409.72" rx="2.25" ry="2.6" fill="#1b385c"/>
<ellipse cx="777.24" cy="413.77" rx="2.25" ry="2.6" fill="#1b385c"/>
<ellipse cx="507.07" cy="417.82" rx="2.25" ry="2.6" fill="#1b385c"/>
<ellipse cx="455.96" cy="421.87" rx="2.25" ry="2.6" fill="#1b385c"/>
<ellipse cx="448.65" cy="434.02" rx="2.25" ry="2.6" fill="#1b385c"/>
<ellipse cx="476.04" cy="434.02" rx="2.25" ry="2.6" fill="#1b385c"/>
<ellipse cx="426.75" cy="438.07" rx="2.25" ry="2.6" fill="#1b385c"/>
<ellipse cx="594.69" cy="446.17" rx="2.25" ry="2.6" fill="#1b385c"/>
<ellipse cx="751.69" cy="446.17" rx="2.25" ry="2.6" fill="#1b385c"/>
<ellipse cx="567.31" cy="450.22" rx="2.25" ry="2.6" fill="#1b385c"/>
<ellipse cx="707.87" cy="454.27" rx="2.25" ry="2.6" fill="#1b385c"/>
<ellipse cx="539.93" cy="462.37" rx="2.25" ry="2.6" fill="#1b385c"/>
<ellipse cx="598.34" cy="462.37" rx="2.25" ry="2.6" fill="#1b385c"/>
<ellipse cx="642.16" cy="466.43" rx="2.25" ry="2.6" fill="#1b385c"/>
<ellipse cx="518.02" cy="470.48" rx="2.25" ry="2.6" fill="#1b385c"/>
<ellipse cx="539.93" cy="482.63" rx="2.25" ry="2.6" fill="#1b385c"/>
<ellipse cx="594.69" cy="490.73" rx="2.25" ry="2.6" fill="#1b385c"/>
<ellipse cx="669.54" cy="494.78" rx="2.25" ry="2.6" fill="#1b385c"/>
<ellipse cx="430.4" cy="502.88" rx="2.25" ry="2.6" fill="#1b385c"/>
<ellipse cx="751.69" cy="502.88" rx="2.25" ry="2.6" fill="#1b385c"/>
<ellipse cx="558.18" cy="510.98" rx="2.25" ry="2.6" fill="#1b385c"/>
<ellipse cx="696.92" cy="510.98" rx="2.25" ry="2.6" fill="#1b385c"/>
<ellipse cx="751.69" cy="531.23" rx="2.25" ry="2.6" fill="#1b385c"/>
<line x1="424.7" y1="385.3" x2="777.5" y2="493.4" stroke="#a04c57" stroke-width="1.1"/>
<text x="605.9" y="320.6" text-anchor="middle" font-size="12.1" fill="#3a3a3a" textLength="189.4" lengthAdjust="spacingAndGlyphs">Correlation diagnosis delay and LVEF12</text>
<text x="605.9" y="582.3" text-anchor="middle" font-size="8.6" fill="#3a3a3a" textLength="81.7" lengthAdjust="spacingAndGlyphs">Diagnosis delay (days)</text>
<rect x="524.9" y="592" width="161.7" height="20.4" fill="#ffffff" stroke="#555a5f" stroke-width="1"/>
<ellipse cx="531.7" cy="602.3" rx="2.3" ry="2.6" fill="#1b385c"/>
<line x1="587.8" y1="602.3" x2="626.5" y2="602.3" stroke="#a04c57" stroke-width="1.2"/>
<text x="540.4" y="605.7" font-size="8.8" fill="#3a3a3a" textLength="29.4" lengthAdjust="spacingAndGlyphs">LVEF12</text>
<text x="633" y="605.6" font-size="8.2" fill="#3a3a3a" textLength="43.9" lengthAdjust="spacingAndGlyphs">Fitted values</text>
<rect x="399.35" y="311.95" width="396.2" height="301.4" fill="none" stroke="#f3fafc" stroke-width="1" stroke-opacity="0.8"/>
<line x1="398.05" y1="310.15" x2="398.05" y2="615.35" stroke="#4e6478" stroke-width="1.6"/>
<line x1="397.25" y1="310.8" x2="797.95" y2="310.8" stroke="#4a5e70" stroke-width="1.3"/>
<line x1="797" y1="310.15" x2="797" y2="615.35" stroke="#64808f" stroke-width="1.9"/>
<line x1="397.25" y1="614.6" x2="797.95" y2="614.6" stroke="#54687a" stroke-width="1.5"/>
</g>
<line x1="94.5" y1="0" x2="94.5" y2="8.5" stroke="#333" stroke-width="1"/>
</svg></body></html>
